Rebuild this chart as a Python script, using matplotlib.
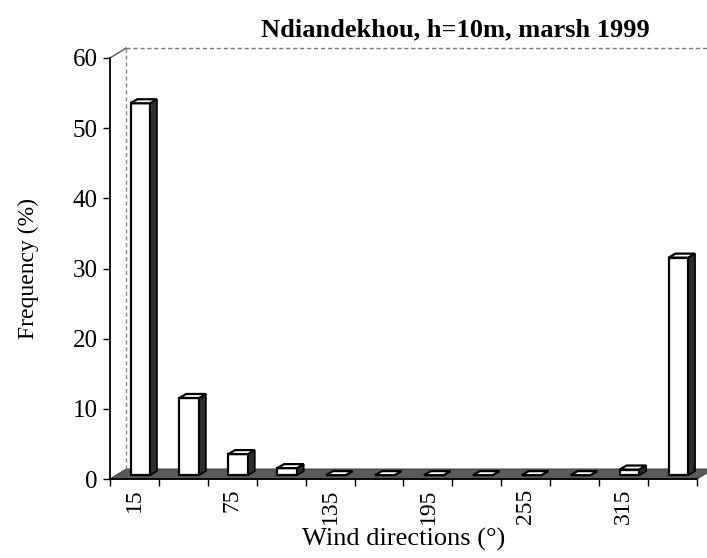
import numpy as np
import matplotlib.pyplot as plt
from matplotlib.patches import Polygon

# wind direction classes (deg) and frequency (%)
directions = [15, 45, 75, 105, 135, 165, 195, 225, 255, 285, 315, 345]
frequency = [53, 11, 3, 1, 0, 0, 0, 0, 0, 0, 0.8, 31]
tick_labels = ["15", "75", "135", "195", "255", "315"]

plt.rcParams['font.family'] = ['Liberation Serif', 'DejaVu Serif']

fig = plt.figure(figsize=(7.07, 5.58), dpi=100)
ax = fig.add_axes([110 / 707, 79 / 558, 587 / 707, 421 / 558])

n = len(directions)
xs = np.arange(n)

# fake 3d: offsets in data units
y0 = 0.55       # bars sit a bit back on the floor
ddx, ddy = 0.14, 0.57   # bar depth
bx, by = 0.33, 1.42     # wall depth

# floor
floor = Polygon([(-0.5, 0), (n - 0.5, 0), (n - 0.5 + bx, by), (-0.5 + bx, by)],
                closed=True, facecolor='#5a5a5a', edgecolor='#444444', lw=0.8,
                clip_on=False, zorder=1)
ax.add_patch(floor)

# back wall (dashed)
ax.plot([-0.5 + bx, n - 0.5 + bx], [60 + by, 60 + by], ls=(0, (3, 2)), color='#777777',
        lw=1, clip_on=False, zorder=1)
ax.plot([-0.5 + bx, -0.5 + bx], [by, 60 + by], ls=(0, (3, 2)), color='#888888',
        lw=1, clip_on=False, zorder=1)
ax.plot([-0.5, -0.5 + bx], [60, 60 + by], color='#555555', lw=1, clip_on=False, zorder=1)

left = xs - 0.08
w = 0.40
ax.bar(left, frequency, width=w, bottom=y0, align='edge', color='white',
       edgecolor='black', lw=1.6, zorder=3)
for xl, v in zip(left, frequency):
    top = y0 + v
    side = Polygon([(xl + w, y0), (xl + w + ddx, y0 + ddy), (xl + w + ddx, top + ddy), (xl + w, top)],
                   closed=True, facecolor='#2e2e2e', edgecolor='black', lw=1.2, zorder=3)
    lid = Polygon([(xl, top), (xl + w, top), (xl + w + ddx, top + ddy), (xl + ddx, top + ddy)],
                  closed=True, facecolor='white', edgecolor='black', lw=1.6, zorder=4)
    ax.add_patch(side)
    ax.add_patch(lid)

ax.set_xlim(-0.5, n - 0.5)
ax.set_ylim(0, 60)
ax.set_yticks(range(0, 61, 10))
ax.set_xticks(xs[::2])
ax.set_xticklabels(tick_labels, rotation=90, fontsize=17)
ax.set_xticks(np.arange(-0.5, n, 1), minor=True)
ax.tick_params(axis='x', which='major', length=0, pad=7)
ax.tick_params(axis='x', which='minor', length=5, width=1, direction='out')
ax.tick_params(axis='y', labelsize=18, length=5, width=1, pad=4)

for s in ['top', 'right']:
    ax.spines[s].set_visible(False)
ax.spines['left'].set_linewidth(1.3)
ax.spines['bottom'].set_linewidth(1.3)

ax.set_xlabel("Wind directions (°)", fontsize=19, labelpad=3)
ax.set_ylabel("Frequency (%)", fontsize=17, labelpad=24)
fig.text(455 / 707, 1 - 30 / 558, "Ndiandekhou, h=10m, marsh 1999", ha='center', va='center',
         fontsize=19, fontweight='bold')

fig.savefig("out.png", dpi=100)
